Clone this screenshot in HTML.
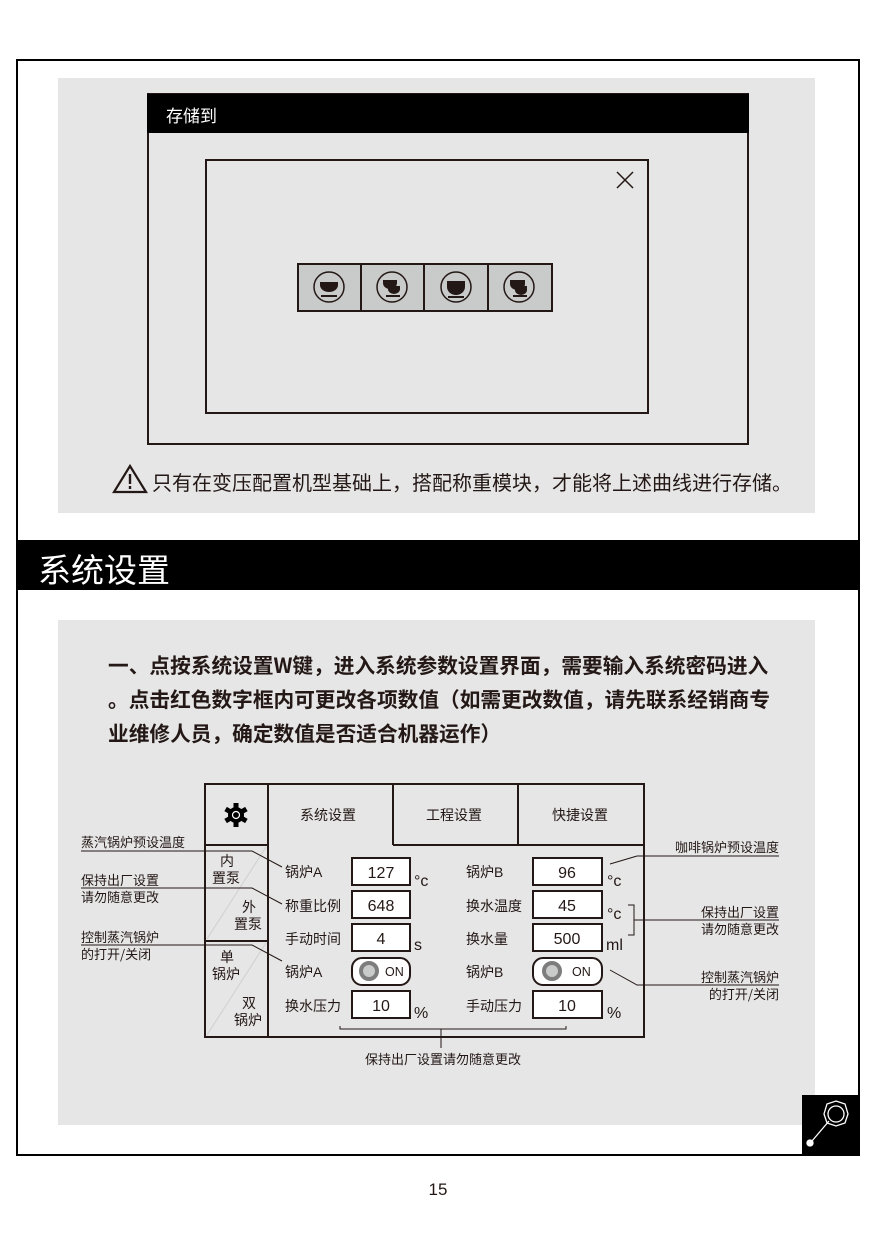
<!DOCTYPE html>
<html><head><meta charset="utf-8"><style>
body{margin:0;background:#fff;}
svg text{font-family:"Liberation Sans","Noto Sans CJK SC",sans-serif;fill:#231815;}
svg text.cjk{font-family:"Noto Sans CJK SC",sans-serif;}
</style></head><body>
<svg width="877" height="1240" viewBox="0 0 877 1240" xmlns="http://www.w3.org/2000/svg">
<rect x="17" y="60" width="842" height="1095" fill="#fff" stroke="#000" stroke-width="2"/>
<rect x="58" y="78" width="757" height="435" fill="#e6e6e6"/>
<rect x="148" y="94" width="600" height="350" fill="none" stroke="#231815" stroke-width="2"/>
<rect x="147" y="94" width="602" height="39" fill="#000"/>
<text x="166" y="122" font-size="17" style="fill:#fff">存储到</text>
<rect x="206" y="160" width="442" height="253" fill="none" stroke="#231815" stroke-width="2"/>
<path d="M617 172 L633 188 M633 172 L617 188" stroke="#231815" stroke-width="1.5"/>
<g stroke="#231815" stroke-width="2">
<rect x="298" y="264" width="254" height="47" fill="#c9caca"/>
<line x1="361" y1="264" x2="361" y2="311"/><line x1="424" y1="264" x2="424" y2="311"/><line x1="488" y1="264" x2="488" y2="311"/>
</g>
<g fill="none" stroke="#231815" stroke-width="1.5">
<circle cx="329" cy="287" r="15"/><circle cx="392" cy="287" r="15"/><circle cx="456" cy="287" r="15"/><circle cx="519" cy="287" r="15"/>
</g>
<g fill="#231815">
<path d="M320 282h18v3a9 7 0 0 1-18 0z"/><rect x="321" y="295" width="16" height="2"/>
<path d="M383 280h14v3a7 6 0 0 1-14 0z"/><path d="M388 286h12v3a6 5 0 0 1-12 0z"/><rect x="386" y="295" width="14" height="2"/>
<path d="M447 281h18v6a9 8 0 0 1-18 0z"/><rect x="448" y="296" width="16" height="2"/>
<path d="M510 280h15v4a7.5 6 0 0 1-15 0z"/><path d="M515 286h12v4a6 5 0 0 1-12 0z"/><rect x="513" y="295" width="14" height="2"/>
</g>
<path d="M130 466 L146 492 L114 492 Z" fill="none" stroke="#231815" stroke-width="2.2"/>
<rect x="128.8" y="474" width="2.4" height="10" fill="#231815"/><rect x="128.8" y="486" width="2.4" height="3" fill="#231815"/>
<text class="cjk" x="152" y="490" font-size="20">只有在变压配置机型基础上，搭配称重模块，才能将上述曲线进行存储。</text>
<rect x="17" y="540" width="842" height="50" fill="#000"/>
<text class="cjk" x="38" y="582" font-size="33" style="fill:#fff">系统设置</text>
<rect x="58" y="620" width="757" height="505" fill="#e6e6e6"/>
<g font-size="20.7" font-weight="bold">
<text class="cjk" x="108" y="673">一、点按系统设置W键，进入系统参数设置界面，需要输入系统密码进入</text>
<text class="cjk" x="108" y="707">。点击红色数字框内可更改各项数值（如需更改数值，请先联系经销商专</text>
<text class="cjk" x="108" y="741">业维修人员，确定数值是否适合机器运作）</text>
</g>
<g stroke="#231815" stroke-width="2" fill="none">
<rect x="205" y="784" width="439" height="253"/>
<line x1="268" y1="784" x2="268" y2="1037"/>
<line x1="393" y1="784" x2="393" y2="845"/><line x1="518" y1="784" x2="518" y2="845"/>
<line x1="393" y1="845" x2="644" y2="845"/>
<line x1="205" y1="845" x2="268" y2="845"/><line x1="205" y1="941" x2="268" y2="941"/>
</g>
<path d="M207 939 L266 847 M207 1035 L266 943" stroke="#d0d0d0" stroke-width="1"/>
<g fill="#000"><circle cx="236" cy="815" r="8"/>
<g transform="translate(236 815)"><rect x="-2.5" y="-12" width="5" height="5"/><rect x="-2.5" y="-12" width="5" height="5" transform="rotate(60)"/><rect x="-2.5" y="-12" width="5" height="5" transform="rotate(120)"/><rect x="-2.5" y="-12" width="5" height="5" transform="rotate(180)"/><rect x="-2.5" y="-12" width="5" height="5" transform="rotate(240)"/><rect x="-2.5" y="-12" width="5" height="5" transform="rotate(300)"/></g></g>
<circle cx="236" cy="815" r="3.5" fill="none" stroke="#fff" stroke-width="1.2"/>
<g font-size="14">
<text class="cjk" x="300" y="820">系统设置</text><text class="cjk" x="426" y="820">工程设置</text><text class="cjk" x="552" y="820">快捷设置</text>
<text class="cjk" x="220" y="866">内</text><text class="cjk" x="212" y="883">置泵</text>
<text class="cjk" x="242" y="912">外</text><text class="cjk" x="234" y="929">置泵</text>
<text class="cjk" x="220" y="962">单</text><text class="cjk" x="212" y="979">锅炉</text>
<text class="cjk" x="242" y="1008">双</text><text class="cjk" x="234" y="1025">锅炉</text>
<text x="285" y="877">锅炉A</text><text class="cjk" x="285" y="911">称重比例</text><text class="cjk" x="285" y="944">手动时间</text><text x="285" y="977">锅炉A</text><text class="cjk" x="285" y="1011">换水压力</text>
<text x="466" y="877">锅炉B</text><text class="cjk" x="466" y="911">换水温度</text><text class="cjk" x="466" y="944">换水量</text><text x="466" y="977">锅炉B</text><text class="cjk" x="466" y="1011">手动压力</text>
</g>
<g stroke="#231815" stroke-width="2" fill="#fff">
<rect x="352" y="858" width="58" height="27"/><rect x="352" y="891" width="58" height="27"/><rect x="352" y="924" width="58" height="27"/><rect x="352" y="991" width="58" height="27"/><rect x="352" y="958" width="58" height="27" rx="10"/>
<rect x="533" y="858" width="69" height="27"/><rect x="533" y="891" width="69" height="27"/><rect x="533" y="924" width="69" height="27"/><rect x="533" y="991" width="69" height="27"/><rect x="533" y="958" width="69" height="27" rx="10"/>
</g>
<circle cx="369" cy="971" r="8" fill="#c9caca" stroke="#7d7d7d" stroke-width="4"/>
<circle cx="552" cy="971" r="8" fill="#c9caca" stroke="#7d7d7d" stroke-width="4"/>
<g font-size="16" text-anchor="middle">
<text x="381" y="878">127</text><text x="381" y="911">648</text><text x="381" y="944">4</text><text x="381" y="1011">10</text>
<text x="567" y="878">96</text><text x="567" y="911">45</text><text x="567" y="944">500</text><text x="567" y="1011">10</text>
</g>
<g font-size="12.5"><text x="385" y="976">ON</text><text x="572" y="976">ON</text></g>
<g font-size="16"><text x="414" y="886">°c</text><text x="414" y="950">s</text><text x="414" y="1018">%</text>
<text x="607" y="886">°c</text><text x="607" y="919">°c</text><text x="606" y="950">ml</text><text x="607" y="1018">%</text></g>
<g stroke="#231815" stroke-width="1" fill="none">
<path d="M81 851 H252 L282 867"/><path d="M81 888 H252 L282 904"/><path d="M81 945 H252 L282 961"/>
<path d="M610 864 L637 856 H779"/><path d="M628 905 H634 V935 H628 M634 920 H779"/><path d="M610 970 L637 985 H779"/>
<path d="M340 1026 V1029 H566 V1026 M441 1029 V1048"/>
</g>
<g font-size="13">
<text class="cjk" x="81" y="847">蒸汽锅炉预设温度</text>
<text class="cjk" x="81" y="885">保持出厂设置</text><text class="cjk" x="81" y="902">请勿随意更改</text>
<text class="cjk" x="81" y="942">控制蒸汽锅炉</text><text class="cjk" x="81" y="959">的打开/关闭</text>
<text class="cjk" x="779" y="852" text-anchor="end">咖啡锅炉预设温度</text>
<text class="cjk" x="779" y="917" text-anchor="end">保持出厂设置</text><text class="cjk" x="779" y="934" text-anchor="end">请勿随意更改</text>
<text class="cjk" x="779" y="982" text-anchor="end">控制蒸汽锅炉</text><text class="cjk" x="779" y="999" text-anchor="end">的打开/关闭</text>
<text class="cjk" x="365" y="1064">保持出厂设置请勿随意更改</text>
</g>
<rect x="802" y="1095" width="57" height="60" fill="#000"/>
<g stroke="#fff" stroke-width="1.3" fill="none">
<polygon points="836,1101 845,1104 848,1114 845,1123 836,1126 827,1123 824,1114 827,1104"/>
<circle cx="836" cy="1114" r="8"/>
<line x1="829" y1="1121" x2="812" y2="1141"/>
<circle cx="810" cy="1143" r="3" fill="#fff"/>
</g>
<text x="438" y="1195" font-size="17" text-anchor="middle">15</text>
</svg>
</body></html>
